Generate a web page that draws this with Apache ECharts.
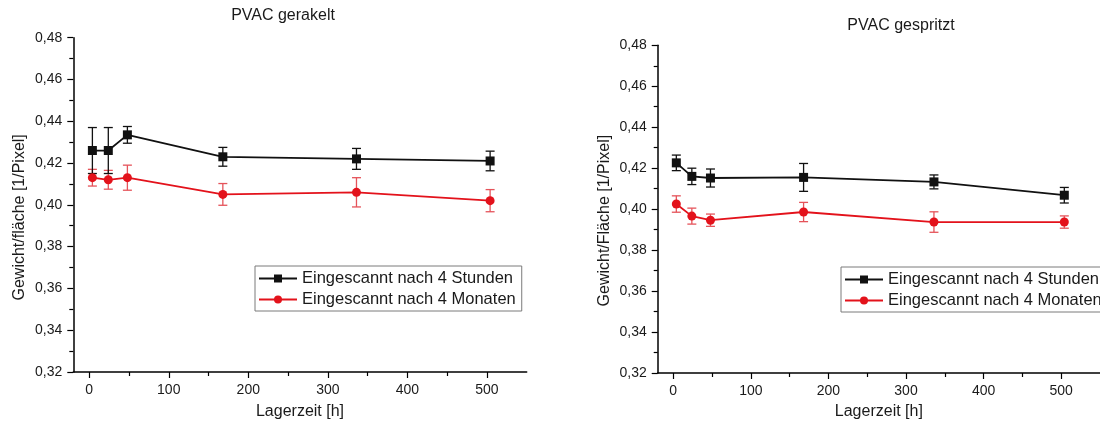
<!DOCTYPE html>
<html>
<head>
<meta charset="utf-8">
<script src="https://cdn.jsdelivr.net/npm/echarts@6/dist/echarts.min.js"></script>
<style>
html,body{margin:0;padding:0;background:#fff;}
#chart{width:1100px;height:425px;}
</style>
</head>
<body>
<div id="chart"></div>
<script>
// ---- data ----
const timesH = [4, 24, 48, 168, 336, 504];
const xTickValues = [0, 100, 200, 300, 400, 500];

const seriesNames = ['Eingescannt nach 4 Stunden', 'Eingescannt nach 4 Monaten'];

// PVAC gerakelt
const gerakeltStunden    = [0.426, 0.426, 0.4335, 0.423, 0.422, 0.421];
const gerakeltStundenErr = [0.011, 0.011, 0.004, 0.0045, 0.005, 0.0047];
const gerakeltMonaten    = [0.413, 0.412, 0.413, 0.405, 0.406, 0.402];
const gerakeltMonatenErr = [0.004, 0.0045, 0.006, 0.0052, 0.007, 0.0053];

// PVAC gespritzt
const gespritztStunden    = [0.4226, 0.416, 0.4152, 0.4155, 0.4133, 0.4068];
const gespritztStundenErr = [0.0038, 0.004, 0.0044, 0.0068, 0.0034, 0.0038];
const gespritztMonaten    = [0.4025, 0.3966, 0.3946, 0.3986, 0.3937, 0.3937];
const gespritztMonatenErr = [0.004, 0.0039, 0.003, 0.0047, 0.005, 0.003];

// ---- chart ----
const FONT = '"Liberation Sans", Arial, sans-serif';
const TXT = '#1a1a1a';
const BLACK = '#111111';
const RED = '#e3121b';
const RED_ERR = '#e5535a';

const pts = (vals) => timesH.map((t, i) => [t, vals[i]]);
const errs = (vals, e) => timesH.map((t, i) => [t, vals[i] - e[i], vals[i] + e[i]]);

function errorBarSeries(data, color, gi) {
  return {
    type: 'custom',
    xAxisIndex: gi, yAxisIndex: gi,
    z: 1,
    silent: true,
    encode: { x: 0, y: [1, 2] },
    data: data,
    renderItem: function (params, api) {
      const x = api.value(0);
      const top = api.coord([x, api.value(2)]);
      const bot = api.coord([x, api.value(1)]);
      const hw = 4.5;
      const st = { stroke: color, lineWidth: 1.3 };
      return {
        type: 'group',
        children: [
          { type: 'line', shape: { x1: top[0], y1: top[1], x2: bot[0], y2: bot[1] }, style: st },
          { type: 'line', shape: { x1: top[0] - hw, y1: top[1], x2: top[0] + hw, y2: top[1] }, style: st },
          { type: 'line', shape: { x1: bot[0] - hw, y1: bot[1], x2: bot[0] + hw, y2: bot[1] }, style: st }
        ]
      };
    }
  };
}

function lineSeries(name, vals, color, symbol, gi) {
  return {
    name: name, type: 'line',
    xAxisIndex: gi, yAxisIndex: gi,
    z: 3,
    data: pts(vals),
    symbol: symbol, symbolSize: 9,
    showAllSymbol: true,
    itemStyle: { color: color },
    lineStyle: { color: color, width: 1.8 },
    animation: false
  };
}

function xAxis(gi, gap) {
  return {
    type: 'value', gridIndex: gi, min: -20, max: 550,
    name: 'Lagerzeit [h]', nameLocation: 'middle', nameGap: gap,
    nameTextStyle: { fontFamily: FONT, fontSize: 16, color: TXT },
    axisLine: { show: true, onZero: false, lineStyle: { color: '#000', width: 1.5 } },
    axisTick: { show: true, inside: false, length: 6, customValues: xTickValues, lineStyle: { color: '#000', width: 1.2 } },
    minorTick: { show: true, splitNumber: 2, length: 4, lineStyle: { color: '#000', width: 1.2 } },
    axisLabel: { show: true, margin: 11, customValues: xTickValues, fontFamily: FONT, fontSize: 14, color: TXT },
    splitLine: { show: false }
  };
}

function yAxis(gi, name, gap, shift) {
  return {
    type: 'value', gridIndex: gi, min: 0.32, max: 0.48, interval: 0.02,
    name: name, nameLocation: 'middle', nameGap: gap,
    nameTextStyle: { fontFamily: FONT, fontSize: 16, color: TXT, padding: [0, shift, 0, 0] },
    axisLine: { show: true, onZero: false, lineStyle: { color: '#000', width: 1.5 } },
    axisTick: { show: true, inside: false, length: 6, lineStyle: { color: '#000', width: 1.2 } },
    minorTick: { show: true, splitNumber: 2, length: 4, lineStyle: { color: '#000', width: 1.2 } },
    axisLabel: { margin: 11, fontFamily: FONT, fontSize: 14, color: TXT,
      formatter: v => v.toFixed(2).replace('.', ',') },
    splitLine: { show: false }
  };
}

function legend(left, top) {
  return {
    data: seriesNames,
    orient: 'vertical',
    left: left, top: top,
    itemWidth: 38, itemHeight: 10, itemGap: 4,
    padding: [4, 6, 3, 3],
    borderColor: '#7a7a7a', borderWidth: 1, borderRadius: 0,
    backgroundColor: '#ffffff',
    textStyle: { fontFamily: FONT, fontSize: 16.5, color: TXT },
    selectedMode: false
  };
}

const chart = echarts.init(document.getElementById('chart'), null, { renderer: 'canvas' });
chart.setOption({
  animation: false,
  backgroundColor: '#ffffff',
  title: [
    { text: 'PVAC gerakelt', left: 283, top: 8, textAlign: 'center', padding: 0,
      textStyle: { fontFamily: FONT, fontSize: 16, fontWeight: 'normal', color: TXT } },
    { text: 'PVAC gespritzt', left: 901, top: 18, textAlign: 'center', padding: 0,
      textStyle: { fontFamily: FONT, fontSize: 16, fontWeight: 'normal', color: TXT } }
  ],
  grid: [
    { left: 73.3, top: 37.7, width: 453.4, height: 335.6, containLabel: false },
    { left: 657.7, top: 45.3, width: 444, height: 328.7, containLabel: false }
  ],
  xAxis: [xAxis(0, 32), xAxis(1, 31)],
  yAxis: [
    yAxis(0, 'Gewicht/fläche [1/Pixel]', 46, 25),
    yAxis(1, 'Gewicht/Fläche [1/Pixel]', 45, 23)
  ],
  legend: [legend(255, 266), legend(841, 267)],
  series: [
    errorBarSeries(errs(gerakeltMonaten, gerakeltMonatenErr), RED_ERR, 0),
    errorBarSeries(errs(gerakeltStunden, gerakeltStundenErr), BLACK, 0),
    lineSeries(seriesNames[1], gerakeltMonaten, RED, 'circle', 0),
    lineSeries(seriesNames[0], gerakeltStunden, BLACK, 'rect', 0),
    errorBarSeries(errs(gespritztMonaten, gespritztMonatenErr), RED_ERR, 1),
    errorBarSeries(errs(gespritztStunden, gespritztStundenErr), BLACK, 1),
    lineSeries(seriesNames[1], gespritztMonaten, RED, 'circle', 1),
    lineSeries(seriesNames[0], gespritztStunden, BLACK, 'rect', 1)
  ]
});
</script>
</body>
</html>
